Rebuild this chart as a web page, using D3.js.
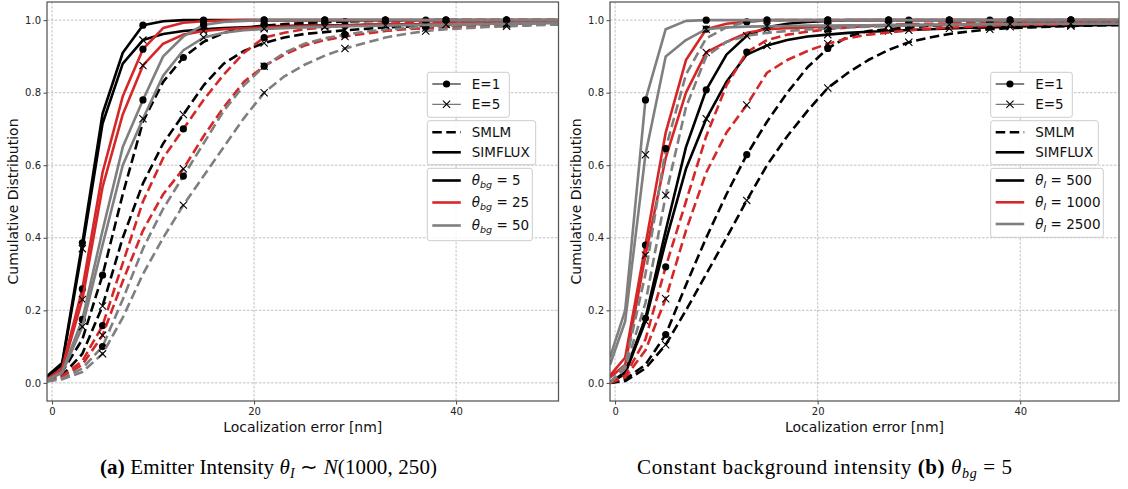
<!DOCTYPE html>
<html><head><meta charset="utf-8">
<script src="https://cdnjs.cloudflare.com/ajax/libs/d3/7.8.5/d3.min.js"></script>
<style>body{margin:0;background:#fff}svg{display:block}</style>
</head><body>
<svg id="chart" width="1128" height="489"></svg>
<script>
// ---------- data ----------
const xValues = [-0.5,1,3,5,7,9,11,13,15,17,19,21,23,25,27,29,31,33,35,37,39,41,43,45,47,49,51];
const xTicks = [0,20,40];
const yTicks = [0,0.2,0.4,0.6,0.8,1.0];
const simfluxMarkerX = [3,9,15,21,27,33,39,45];
const smlmMarkerX = [5,13,21,29,37,45];

// Panel (a): background levels 5 / 25 / 50
const aSimfluxBg5E1  = [0.018,0.055,0.386,0.742,0.910,0.986,0.997,1,1,1,1,1,1,1,1,1,1,1,1,1,1,1,1,1,1,1,1];
const aSimfluxBg5E5  = [0.015,0.050,0.370,0.715,0.880,0.945,0.962,0.970,0.975,0.978,0.980,0.983,0.984,0.985,0.985,0.986,0.987,0.988,0.988,0.989,0.990,0.990,0.991,0.992,0.992,0.993,0.993];
const aSimfluxBg25E1 = [0.010,0.040,0.259,0.580,0.790,0.920,0.978,0.993,0.997,0.999,1,1,1,1,1,1,1,1,1,1,1,1,1,1,1,1,1];
const aSimfluxBg25E5 = [0.010,0.035,0.230,0.540,0.740,0.875,0.935,0.960,0.970,0.975,0.978,0.980,0.982,0.983,0.984,0.985,0.986,0.987,0.988,0.988,0.989,0.990,0.990,0.991,0.992,0.992,0.993];
const aSimfluxBg50E1 = [0.008,0.030,0.175,0.420,0.650,0.780,0.900,0.955,0.987,0.995,0.998,1,1,1,1,1,1,1,1,1,1,1,1,1,1,1,1];
const aSimfluxBg50E5 = [0.008,0.028,0.155,0.380,0.600,0.728,0.847,0.917,0.952,0.965,0.972,0.976,0.978,0.980,0.981,0.983,0.984,0.985,0.986,0.987,0.988,0.989,0.990,0.990,0.991,0.992,0.992];
const aSmlmBg5E1  = [0.012,0.030,0.120,0.297,0.520,0.720,0.830,0.897,0.940,0.965,0.978,0.985,0.989,0.992,0.994,0.996,0.997,0.998,0.999,1,1,1,1,1,1,1,1];
const aSmlmBg5E5  = [0.010,0.020,0.080,0.212,0.400,0.550,0.660,0.740,0.820,0.880,0.915,0.937,0.952,0.962,0.967,0.972,0.976,0.980,0.982,0.985,0.987,0.989,0.990,0.991,0.992,0.993,0.994];
const aSmlmBg25E1 = [0.008,0.018,0.060,0.158,0.330,0.500,0.620,0.700,0.780,0.850,0.910,0.952,0.965,0.975,0.980,0.985,0.988,0.990,0.992,0.993,0.994,0.995,0.996,0.997,0.997,0.998,0.998];
const aSmlmBg25E5 = [0.006,0.015,0.050,0.131,0.280,0.420,0.520,0.590,0.680,0.760,0.830,0.873,0.905,0.930,0.945,0.955,0.963,0.970,0.975,0.978,0.981,0.983,0.985,0.987,0.988,0.990,0.990];
const aSmlmBg50E1 = [0.005,0.012,0.040,0.100,0.230,0.370,0.480,0.570,0.660,0.750,0.820,0.873,0.910,0.935,0.950,0.960,0.968,0.974,0.978,0.982,0.985,0.987,0.989,0.990,0.991,0.992,0.993];
const aSmlmBg50E5 = [0.004,0.010,0.030,0.080,0.180,0.300,0.400,0.490,0.570,0.650,0.730,0.800,0.845,0.877,0.902,0.922,0.937,0.952,0.962,0.970,0.975,0.978,0.981,0.983,0.985,0.987,0.988];

// Panel (b): intensity levels 500 / 1000 / 2500
const bSimfluxI500E1  = [0.000,0.030,0.178,0.420,0.650,0.808,0.905,0.957,0.980,0.990,0.995,0.998,1,1,1,1,1,1,1,1,1,1,1,1,1,1,1];
const bSimfluxI500E5  = [0.000,0.025,0.170,0.390,0.590,0.728,0.830,0.905,0.930,0.945,0.955,0.960,0.965,0.968,0.970,0.973,0.975,0.977,0.979,0.980,0.982,0.983,0.984,0.985,0.986,0.987,0.988];
const bSimfluxI1000E1 = [0.020,0.070,0.380,0.690,0.890,0.975,0.990,0.996,1,1,1,1,1,1,1,1,1,1,1,1,1,1,1,1,1,1,1];
const bSimfluxI1000E5 = [0.015,0.050,0.352,0.620,0.800,0.911,0.940,0.965,0.975,0.978,0.980,0.982,0.983,0.984,0.985,0.986,0.986,0.987,0.987,0.988,0.988,0.989,0.989,0.990,0.990,0.990,0.990];
const bSimfluxI2500E1 = [0.070,0.200,0.780,0.975,0.998,1,1,1,1,1,1,1,1,1,1,1,1,1,1,1,1,1,1,1,1,1,1];
const bSimfluxI2500E5 = [0.050,0.170,0.629,0.900,0.945,0.975,0.980,0.982,0.983,0.984,0.985,0.985,0.986,0.986,0.987,0.987,0.988,0.988,0.988,0.989,0.989,0.990,0.990,0.990,0.990,0.990,0.990];
const bSmlmI500E1  = [0.000,0.010,0.050,0.133,0.270,0.400,0.520,0.629,0.720,0.800,0.870,0.922,0.955,0.970,0.975,0.980,0.984,0.987,0.989,0.990,0.991,0.992,0.993,0.994,0.995,0.995,0.996];
const bSmlmI500E5  = [0.000,0.005,0.040,0.105,0.200,0.300,0.400,0.503,0.600,0.680,0.750,0.813,0.855,0.890,0.918,0.939,0.952,0.962,0.969,0.975,0.978,0.980,0.982,0.984,0.985,0.986,0.987];
const bSmlmI1000E1 = [0.000,0.020,0.120,0.320,0.500,0.680,0.820,0.912,0.945,0.960,0.968,0.975,0.980,0.984,0.987,0.989,0.990,0.991,0.992,0.993,0.994,0.995,0.995,0.996,0.996,0.997,0.997];
const bSmlmI1000E5 = [0.000,0.015,0.090,0.232,0.420,0.580,0.690,0.766,0.855,0.890,0.915,0.935,0.950,0.960,0.966,0.972,0.976,0.979,0.982,0.984,0.986,0.987,0.988,0.989,0.990,0.990,0.991];
const bSmlmI2500E1 = [0.000,0.050,0.300,0.646,0.850,0.950,0.980,0.995,1,1,1,1,1,1,1,1,1,1,1,1,1,1,1,1,1,1,1];
const bSmlmI2500E5 = [0.000,0.040,0.220,0.517,0.760,0.900,0.940,0.957,0.965,0.970,0.974,0.977,0.980,0.982,0.984,0.985,0.986,0.987,0.988,0.988,0.989,0.990,0.990,0.990,0.990,0.990,0.990];

const levelColors = ["#000000", "#d62728", "#7f7f7f"];
const aLevelLabels = ["5", "25", "50"];
const bLevelLabels = ["500", "1000", "2500"];

// ---------- drawing ----------
const svg = d3.select("#chart");
const FONT = "DejaVu Sans, sans-serif";

function seriesList(arrs) {
  const out = [];
  arrs.forEach((lv, li) => {
    lv.forEach((m, mi) => {
      m.forEach((vals, ei) => out.push({level: li, method: mi === 0 ? "smlm" : "simflux", E: ei === 0 ? 1 : 5, values: vals}));
    });
  });
  return out;
}

function drawPanel(cfg) {
  const g = svg.append("g");
  const x = d3.scaleLinear().domain(cfg.xDomain).range([cfg.left, cfg.right]);
  const y = d3.scaleLinear().domain([-0.05, 1.05]).range([cfg.bottom, cfg.top]);
  const grid = g.append("g").attr("stroke", "#b0b0b0").attr("stroke-width", 0.8).attr("stroke-dasharray", "2.5,1.5");
  grid.selectAll("line.v").data(xTicks).join("line")
    .attr("x1", d => x(d)).attr("x2", d => x(d)).attr("y1", cfg.top).attr("y2", cfg.bottom);
  grid.selectAll("line.h").data(yTicks).join("line").attr("class", "h")
    .attr("x1", cfg.left).attr("x2", cfg.right).attr("y1", d => y(d)).attr("y2", d => y(d));

  const clipId = "clip" + cfg.id;
  svg.append("clipPath").attr("id", clipId).append("rect")
    .attr("x", cfg.left).attr("y", cfg.top).attr("width", cfg.right - cfg.left).attr("height", cfg.bottom - cfg.top);
  const plot = g.append("g").attr("clip-path", `url(#${clipId})`);
  const line = d3.line().x((d, i) => x(xValues[i])).y(d => y(d));

  cfg.series.forEach(s => {
    plot.append("path").datum(s.values).attr("d", line)
      .attr("fill", "none").attr("stroke", levelColors[s.level]).attr("stroke-width", 2.6)
      .attr("stroke-linejoin", "round")
      .attr("stroke-dasharray", s.method === "smlm" ? "9.5,4.5" : null);
    const mx = s.method === "smlm" ? smlmMarkerX : simfluxMarkerX;
    const pts = xValues.map((xv, i) => ({xv, v: s.values[i]})).filter(p => mx.includes(p.xv));
    if (s.E === 1) {
      plot.selectAll(null).data(pts).join("circle")
        .attr("cx", p => x(p.xv)).attr("cy", p => y(p.v)).attr("r", 3.6).attr("fill", "#000");
    } else {
      const r = 3.6;
      plot.selectAll(null).data(pts).join("path")
        .attr("d", p => `M${x(p.xv)-r},${y(p.v)-r}L${x(p.xv)+r},${y(p.v)+r}M${x(p.xv)-r},${y(p.v)+r}L${x(p.xv)+r},${y(p.v)-r}`)
        .attr("stroke", "#000").attr("stroke-width", 1.1).attr("fill", "none");
    }
  });

  const xAxis = g.append("g").attr("transform", `translate(0,${cfg.bottom})`)
    .call(d3.axisBottom(x).tickValues(xTicks).tickSize(3.5).tickPadding(3).tickFormat(d3.format("d")));
  const yAxis = g.append("g").attr("transform", `translate(${cfg.left},0)`)
    .call(d3.axisLeft(y).tickValues(yTicks).tickSize(3.5).tickPadding(2.5).tickFormat(d3.format(".1f")));
  [xAxis, yAxis].forEach(ax => {
    ax.select(".domain").remove();
    ax.selectAll(".tick line").attr("stroke", "#444").attr("stroke-width", 1);
    ax.selectAll(".tick text").attr("font-family", FONT).attr("font-size", 10).attr("fill", "#222");
  });
  g.append("rect").attr("x", cfg.left).attr("y", cfg.top)
    .attr("width", cfg.right - cfg.left).attr("height", cfg.bottom - cfg.top)
    .attr("fill", "none").attr("stroke", "#555").attr("stroke-width", 1.25);

  g.append("text").attr("x", (cfg.left + cfg.right) / 2).attr("y", 432)
    .attr("text-anchor", "middle").attr("font-family", FONT).attr("font-size", 14).attr("fill", "#111")
    .text("Localization error [nm]");
  g.append("text").attr("transform", `translate(${cfg.ylabelX},${(cfg.top + cfg.bottom) / 2}) rotate(-90)`)
    .attr("text-anchor", "middle").attr("font-family", FONT).attr("font-size", 14).attr("fill", "#111")
    .text("Cumulative Distribution");

  const L = cfg.legend;
  const lg = g.append("g").attr("font-family", FONT).attr("font-size", 13.5).attr("fill", "#111");
  L.boxes.forEach(b => {
    lg.append("rect").attr("x", L.x0).attr("y", b[0]).attr("width", b[2]).attr("height", b[1] - b[0])
      .attr("rx", 2.5).attr("fill", "#fff").attr("fill-opacity", 0.85).attr("stroke", "#cccccc").attr("stroke-width", 1);
  });
  const hx0 = L.x0 + 5, hx1 = L.x0 + 33.5, tx = L.x0 + 44.5;
  const rowsY = L.rows;
  lg.append("line").attr("x1", hx0).attr("x2", hx1).attr("y1", rowsY[0]).attr("y2", rowsY[0]).attr("stroke", "#000").attr("stroke-width", 1);
  lg.append("circle").attr("cx", (hx0 + hx1) / 2).attr("cy", rowsY[0]).attr("r", 3.6).attr("fill", "#000");
  lg.append("line").attr("x1", hx0).attr("x2", hx1).attr("y1", rowsY[1]).attr("y2", rowsY[1]).attr("stroke", "#555").attr("stroke-width", 1);
  const cx = (hx0 + hx1) / 2, cy = rowsY[1], r = 3.6;
  lg.append("path").attr("d", `M${cx-r},${cy-r}L${cx+r},${cy+r}M${cx-r},${cy+r}L${cx+r},${cy-r}`).attr("stroke", "#000").attr("stroke-width", 1.1);
  lg.append("text").attr("x", tx).attr("y", rowsY[0] + 4.9).text("E=1");
  lg.append("text").attr("x", tx).attr("y", rowsY[1] + 4.9).text("E=5");
  lg.append("line").attr("x1", hx0).attr("x2", hx1).attr("y1", rowsY[2]).attr("y2", rowsY[2]).attr("stroke", "#000").attr("stroke-width", 2.6).attr("stroke-dasharray", "9.5,4.5");
  lg.append("line").attr("x1", hx0).attr("x2", hx1).attr("y1", rowsY[3]).attr("y2", rowsY[3]).attr("stroke", "#000").attr("stroke-width", 2.6);
  lg.append("text").attr("x", tx).attr("y", rowsY[2] + 4.9).text("SMLM");
  lg.append("text").attr("x", tx).attr("y", rowsY[3] + 4.9).text("SIMFLUX");
  cfg.levelLabels.forEach((lab, i) => {
    const yy = rowsY[4 + i];
    lg.append("line").attr("x1", hx0).attr("x2", hx1).attr("y1", yy).attr("y2", yy).attr("stroke", levelColors[i]).attr("stroke-width", 2.6);
    const t = lg.append("text").attr("x", tx).attr("y", yy + 4.9);
    t.append("tspan").attr("font-style", "italic").text("θ");
    t.append("tspan").attr("font-style", "italic").attr("font-size", 9.5).attr("dy", 3).text(cfg.sub);
    t.append("tspan").attr("dy", -3).text(" = " + lab);
  });
}

drawPanel({
  id: "a", left: 47, right: 558.5, top: 2, bottom: 401, xDomain: [-0.5, 50.14], ylabelX: 18,
  series: seriesList([
    [[aSmlmBg5E1, aSmlmBg5E5], [aSimfluxBg5E1, aSimfluxBg5E5]],
    [[aSmlmBg25E1, aSmlmBg25E5], [aSimfluxBg25E1, aSimfluxBg25E5]],
    [[aSmlmBg50E1, aSmlmBg50E5], [aSimfluxBg50E1, aSimfluxBg50E5]]
  ]),
  levelLabels: aLevelLabels, sub: "bg",
  legend: {x0: 427.3, boxes: [[72.3, 117.3, 82], [120.7, 164.7, 108.4], [168.3, 240.7, 105]],
           rows: [84, 104.3, 132.3, 152.3, 180.5, 202.5, 225.5]}
});
drawPanel({
  id: "b", left: 610, right: 1119, top: 2, bottom: 401, xDomain: [-0.5, 49.75], ylabelX: 581,
  series: seriesList([
    [[bSmlmI500E1, bSmlmI500E5], [bSimfluxI500E1, bSimfluxI500E5]],
    [[bSmlmI1000E1, bSmlmI1000E5], [bSimfluxI1000E1, bSimfluxI1000E5]],
    [[bSmlmI2500E1, bSmlmI2500E5], [bSimfluxI2500E1, bSimfluxI2500E5]]
  ]),
  levelLabels: bLevelLabels, sub: "I",
  legend: {x0: 990.7, boxes: [[72.3, 117.3, 81.6], [120.7, 164.7, 107.6], [168.3, 237.3, 112.6]],
           rows: [84, 104.3, 132.3, 152.3, 180.5, 202.3, 224]}
});

// captions
const SERIF = "Liberation Serif, Times New Roman, serif";
const capA = svg.append("text").attr("x", 100).attr("y", 474).attr("font-family", SERIF).attr("font-size", 21).attr("fill", "#000")
  .attr("textLength", 337).attr("lengthAdjust", "spacing");
capA.append("tspan").attr("font-weight", "bold").text("(a)");
capA.append("tspan").text(" Emitter Intensity ");
capA.append("tspan").attr("font-style", "italic").text("θ");
capA.append("tspan").attr("font-style", "italic").attr("font-size", 14).attr("dy", 4).text("I");
capA.append("tspan").attr("dy", -4).text(" ∼ ");
capA.append("tspan").attr("font-style", "italic").text("N");
capA.append("tspan").text("(1000, 250)");

const capB = svg.append("text").attr("x", 637).attr("y", 474).attr("font-family", SERIF).attr("font-size", 21).attr("fill", "#000")
  .attr("textLength", 375).attr("lengthAdjust", "spacing");
capB.append("tspan").text("Constant background intensity ");
capB.append("tspan").attr("font-weight", "bold").text("(b)");
capB.append("tspan").text(" ");
capB.append("tspan").attr("font-style", "italic").text("θ");
capB.append("tspan").attr("font-style", "italic").attr("font-size", 14).attr("dy", 4).text("bg");
capB.append("tspan").attr("dy", -4).text(" = 5");
</script>
</body></html>
